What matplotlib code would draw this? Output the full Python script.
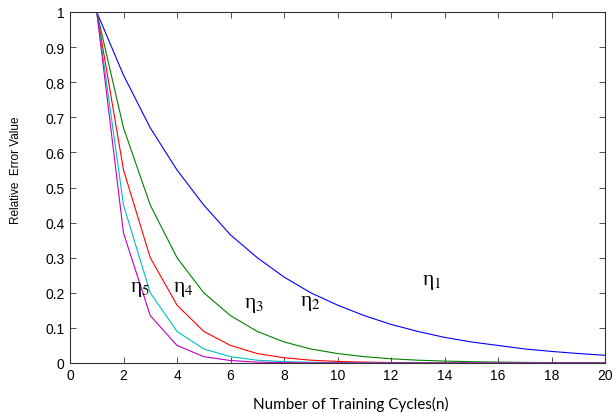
import matplotlib
matplotlib.use("Agg")
import matplotlib.pyplot as plt
from matplotlib import font_manager

cycles = list(range(1, 21))
eta1 = [1.0, 0.82, 0.67, 0.55, 0.45, 0.365, 0.30, 0.245, 0.20, 0.165, 0.135, 0.11, 0.09, 0.073, 0.06, 0.05, 0.04, 0.033, 0.027, 0.022]
eta2 = [1.0, 0.67, 0.45, 0.30, 0.20, 0.135, 0.09, 0.06, 0.04, 0.027, 0.018, 0.012, 0.008, 0.0055, 0.0037, 0.0025, 0.0017, 0.0011, 0.0008, 0.0005]
eta3 = [1.0, 0.55, 0.30, 0.165, 0.09, 0.05, 0.027, 0.015, 0.008, 0.0045, 0.0025, 0.0014, 0.0008, 0.0004, 0.0002, 0.0001, 0.0001, 0.0, 0.0, 0.0]
eta4 = [1.0, 0.45, 0.20, 0.09, 0.04, 0.018, 0.008, 0.004, 0.002, 0.001, 0.0004, 0.0002, 0.0001, 0.0, 0.0, 0.0, 0.0, 0.0, 0.0, 0.0]
eta5 = [1.0, 0.37, 0.135, 0.05, 0.018, 0.007, 0.0025, 0.001, 0.0003, 0.0001, 0.0, 0.0, 0.0, 0.0, 0.0, 0.0, 0.0, 0.0, 0.0, 0.0]

series = [eta1, eta2, eta3, eta4, eta5]
colors = ['#0000ff', '#008000', '#ff0000', '#00bfbf', '#bf00bf']

labels = ['η', 'η', 'η', 'η', 'η']
subs = ['1', '2', '3', '4', '5']
label_x = [13.16, 8.6, 6.5, 3.85, 2.24]
label_y = [0.232, 0.172, 0.167, 0.211, 0.211]

fig = plt.figure(figsize=(6.12, 4.14), dpi=100)
ax = fig.add_axes([70 / 612, 1 - 364 / 414, 535 / 612, 351 / 414])

for ys, c in zip(series, colors):
    ax.plot(cycles, ys, color=c, lw=0.8)

for lab, s, lx, ly in zip(labels, subs, label_x, label_y):
    ax.text(lx, ly, f"{lab}$_{{{s}}}$", fontsize=15.5, family='Liberation Serif',
            math_fontfamily='stix', ha='left', va='center')

ax.set_xlim(0, 20)
ax.set_ylim(0, 1)
ax.set_xticks(range(0, 21, 2))
ax.set_yticks([0, 0.1, 0.2, 0.3, 0.4, 0.5, 0.6, 0.7, 0.8, 0.9, 1])
ax.set_yticklabels(['0', '0.1', '0.2', '0.3', '0.4', '0.5', '0.6', '0.7', '0.8', '0.9', '1'])
ax.tick_params(direction='in', top=True, right=True, length=4, width=0.6,
               labelsize=10, pad=3.8, colors='#333333', labelcolor='black')
for lbl in ax.get_xticklabels() + ax.get_yticklabels():
    lbl.set_family('Liberation Sans')
for sp in ax.spines.values():
    sp.set_linewidth(0.8)
    sp.set_color('#333333')

ax.set_xlabel('Number of Training Cycles(n)', family='Lato', fontsize=11)
ax.xaxis.set_label_coords(0.525, -0.128)
ax.xaxis.label.set_va('baseline')

names = {f.name for f in font_manager.fontManager.ttflist}
if 'Liberation Sans Narrow' in names:
    yl_family, yl_size = 'Liberation Sans Narrow', 9.5
else:
    yl_family, yl_size = 'Liberation Sans', 8.5
ax.set_ylabel('Relative  Error Value', family=yl_family, fontsize=yl_size)
ax.yaxis.set_label_coords(-0.101, 0.553)
ax.yaxis.label.set_va('center')

fig.savefig('out.png', dpi=100)
